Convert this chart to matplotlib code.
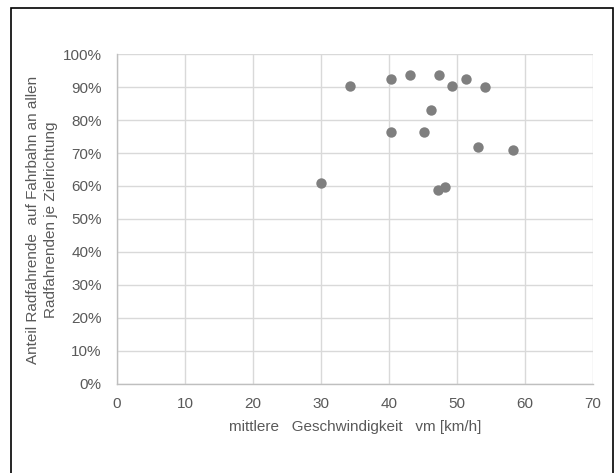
import matplotlib
matplotlib.use("Agg")
import matplotlib.pyplot as plt
from matplotlib.patches import Rectangle
from matplotlib.ticker import FuncFormatter

speed = [34.2, 40.3, 43.1, 47.3, 49.2, 51.3, 54.1, 46.2, 40.3, 45.1, 53.1, 58.2, 30.0, 47.2, 48.2]
share = [90.5, 92.6, 93.6, 93.6, 90.5, 92.6, 90.1, 83.0, 76.5, 76.5, 71.8, 71.0, 60.9, 58.8, 59.8]
x_ticks = [0, 10, 20, 30, 40, 50, 60, 70]
y_ticks = [0, 10, 20, 30, 40, 50, 60, 70, 80, 90, 100]
x_label = "mittlere   Geschwindigkeit   vm [km/h]"
y_label = "Anteil Radfahrende  auf Fahrbahn an allen\nRadfahrenden je Zielrichtung"

plt.rcParams["font.family"] = ["Liberation Sans", "DejaVu Sans"]

text_c = "#595959"
fig = plt.figure(figsize=(6.14, 4.73), dpi=100)
ax = fig.add_axes([117 / 614, 1 - 383.5 / 473, (593 - 117) / 614, (383.5 - 54.3) / 473])

ax.scatter(speed, share, s=56, color="#7f7f7f", zorder=3, linewidths=0)
ax.set_xlim(0, 70)
ax.set_ylim(0, 100)
ax.set_xticks(x_ticks)
ax.set_yticks(y_ticks)
ax.yaxis.set_major_formatter(FuncFormatter(lambda v, p: f"{int(v)}%"))
ax.grid(True, color="#d9d9d9", linewidth=1)
ax.set_axisbelow(True)
for s in ["top", "right"]:
    ax.spines[s].set_visible(False)
for s in ["left", "bottom"]:
    ax.spines[s].set_color("#bfbfbf")
    ax.spines[s].set_linewidth(1)
ax.tick_params(length=0, labelsize=11, colors=text_c, pad=10)
ax.tick_params(axis="y", pad=11)
ax.set_xlabel(x_label, fontsize=11, color=text_c, labelpad=6)

fig.text(42 / 614, 1 - 220 / 473, y_label, rotation=90, ha="center", va="center",
         multialignment="center", fontsize=11, color=text_c, linespacing=1.3)

fig.patches.append(Rectangle((11 / 614, -0.05), (613 - 11) / 614, 1.05 - 8 / 473,
                             transform=fig.transFigure, fill=False,
                             edgecolor="black", linewidth=1.2))
fig.savefig("out.png", dpi=100)
